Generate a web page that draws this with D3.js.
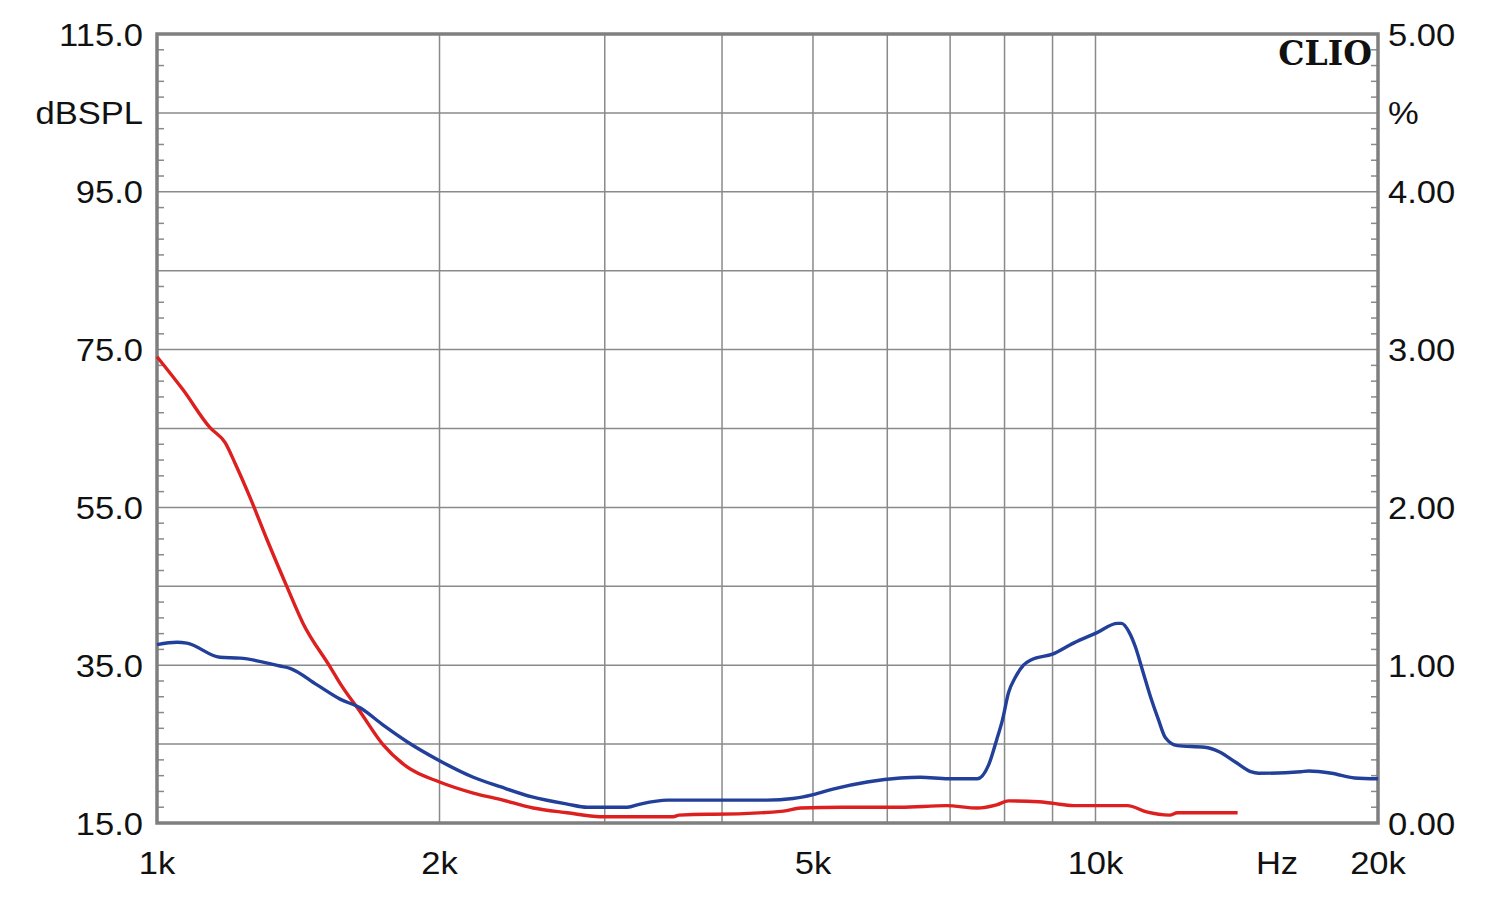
<!DOCTYPE html>
<html><head><meta charset="utf-8">
<script src="https://cdn.jsdelivr.net/npm/d3@7"></script>
<style>html,body{margin:0;padding:0;background:#fff;}svg{display:block;}</style>
</head><body>
<svg id="c" width="1500" height="899"></svg>
<script>
// Data (frequency in Hz, level in dBSPL on the left axis)
const blueFreq = [1000,1050,1076,1167,1226,1352,1386,1481,1567,1646,1742,1847,2000,2173,2321,2510,2736,2873,3170,3272,3498,4320,4465,4760,5004,5250,5712,6196,6508,6971,7484,7690,7845,7961,8078,8218,8381,8547,9000,9474,10025,10556,10660,10870,11030,11220,11445,11670,11873,12226,13068,13560,14105,14634,14925,16546,16874,17852,18886,20000];
const blueDb   = [37.6,37.9,37.8,36.0,35.9,34.9,34.6,32.5,30.7,29.6,27.4,25.3,22.9,20.8,19.6,18.3,17.4,17.0,17.0,17.4,17.9,17.9,17.9,18.1,18.6,19.3,20.2,20.7,20.8,20.6,20.6,22.3,25.5,28.1,31.5,33.5,35.0,35.7,36.4,37.8,39.1,40.3,40.3,39.1,37.3,34.4,31.0,28.1,25.8,24.8,24.6,24.0,22.7,21.5,21.3,21.5,21.6,21.3,20.7,20.6];
const redFreq  = [1000,1066,1139,1182,1211,1256,1310,1376,1431,1529,1567,1646,1742,1847,2000,2173,2321,2517,2736,2967,3549,3600,3857,3915,4650,4849,5388,6196,6937,7484,7845,8078,8694,9000,9474,10817,11334,11994,12226,14173];
const redDb    = [74.1,69.9,65.1,63.2,60.6,56.3,50.9,44.9,40.3,34.8,32.7,29.1,24.9,22.1,20.2,18.8,18.0,16.9,16.3,15.8,15.8,16.0,16.1,16.1,16.5,16.9,17.0,17.0,17.2,16.9,17.3,17.8,17.7,17.5,17.2,17.2,16.4,16.0,16.3,16.3];

const leftTicks  = [115,95,75,55,35,15];
const leftLabels = ["115.0","95.0","75.0","55.0","35.0","15.0"];
const rightTicks = [5,4,3,2,1,0];
const rightLabels = ["5.00","4.00","3.00","2.00","1.00","0.00"];
const xLabelFreq = [1000,2000,5000,10000,20000];
const xLabels    = ["1k","2k","5k","10k","20k"];
const xGridFreq  = [2000,3000,4000,5000,6000,7000,8000,9000,10000];
const leftUnit = "dBSPL", rightUnit = "%", xUnit = "Hz", brand = "CLIO";

const svg = d3.select("#c");
const L = 157, R = 1378, T = 34, B = 823;
const x = d3.scaleLog().domain([1000,20000]).range([L,R]);
const y = d3.scaleLinear().domain([15,115]).range([B,T]);
const y2 = d3.scaleLinear().domain([0,5]).range([B,T]);
const grid = "#8a8a8a";
const font = "'Liberation Sans', Arial, sans-serif";
const FS = 32, SX = 1.08;

// horizontal gridlines every 10 dB
const hGrid = d3.range(25,115,10);
svg.append("g").selectAll("line").data(hGrid).join("line")
  .attr("x1",L).attr("x2",R).attr("y1",d=>y(d)).attr("y2",d=>y(d))
  .attr("stroke",grid).attr("stroke-width",1.5);
// vertical gridlines
svg.append("g").selectAll("line").data(xGridFreq).join("line")
  .attr("x1",d=>x(d)).attr("x2",d=>x(d)).attr("y1",T).attr("y2",B)
  .attr("stroke",grid).attr("stroke-width",1.5);

// minor ticks (every 2 dB) on left and right
const minor = d3.range(17,115,2).filter(d => (d-15)%10!==0);
svg.append("g").selectAll("line").data(minor).join("line")
  .attr("x1",L).attr("x2",L+7).attr("y1",d=>y(d)).attr("y2",d=>y(d))
  .attr("stroke",grid).attr("stroke-width",1.5);
svg.append("g").selectAll("line").data(minor).join("line")
  .attr("x1",R-7).attr("x2",R).attr("y1",d=>y(d)).attr("y2",d=>y(d))
  .attr("stroke",grid).attr("stroke-width",1.5);

// frame
svg.append("rect").attr("x",L).attr("y",T).attr("width",R-L).attr("height",B-T)
  .attr("fill","none").attr("stroke","#7f7f7f").attr("stroke-width",3.5);

// curves
const line = d3.line().x(d=>x(d[0])).y(d=>y(d[1])).curve(d3.curveMonotoneX);
svg.append("path").datum(d3.zip(redFreq,redDb)).attr("d",line)
  .attr("fill","none").attr("stroke","#dd1f1f").attr("stroke-width",3.4).attr("stroke-linejoin","round");
svg.append("path").datum(d3.zip(blueFreq,blueDb)).attr("d",line)
  .attr("fill","none").attr("stroke","#22409a").attr("stroke-width",3.4).attr("stroke-linejoin","round");

function label(g, px, py, txt, anchor){
  g.append("text").attr("transform",`translate(${px},${py}) scale(${SX},1)`)
    .attr("dy","0.36em").attr("text-anchor",anchor).text(txt);
}
const tg = svg.append("g").attr("font-family",font).attr("font-size",FS).attr("fill","#111");
leftTicks.forEach((d,i)=>label(tg,143,y(d),leftLabels[i],"end"));
label(tg,143,y(105),leftUnit,"end");
rightTicks.forEach((d,i)=>label(tg,1388,y2(d),rightLabels[i],"start"));
label(tg,1388,y2(4.5),rightUnit,"start");
xLabelFreq.forEach((d,i)=>label(tg,x(d),862,xLabels[i],"middle"));
label(tg,1277,862,xUnit,"middle");

// brand
svg.append("text").attr("x",1372).attr("y",53).attr("dy","0.36em")
  .attr("text-anchor","end").attr("font-family","'DejaVu Serif', serif").attr("font-weight","bold")
  .attr("font-size",33).attr("fill","#111").text(brand);
</script>
</body></html>
